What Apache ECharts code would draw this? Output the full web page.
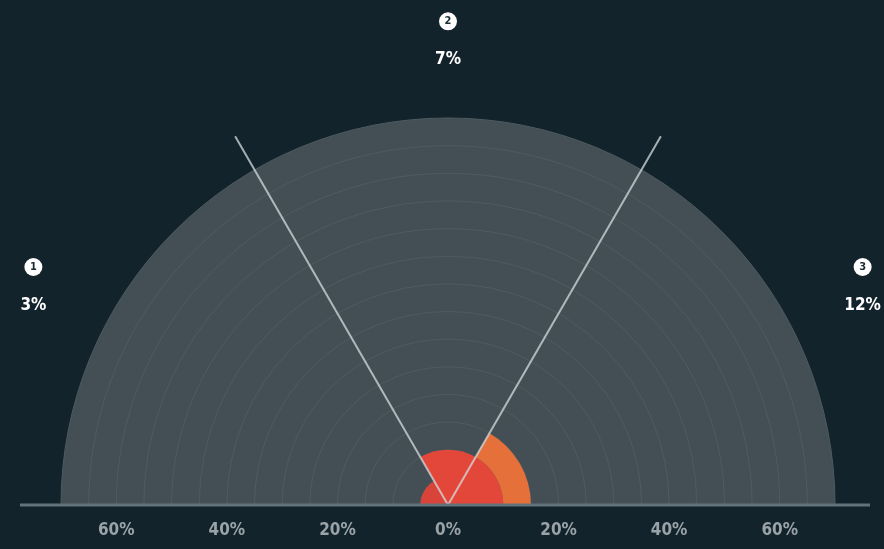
<!DOCTYPE html>
<html>
<head>
<meta charset="utf-8">
<title>Share by sector</title>
<script src="https://cdn.jsdelivr.net/npm/echarts@6/dist/echarts.min.js"></script>
<style>
    html, body { margin: 0; padding: 0; background: #13232b; }
    #chart { width: 884px; height: 549px; }
</style>
</head>
<body>
<div id="chart"></div>
<script>
    // sectors go left -> right across the half circle
    var sectors = ['1', '2', '3'];
    var shares = ['3%', '7%', '12%'];
    // radius of each wedge (%)
    var innerValues = [5, 10, 10];
    var outerValues = [0, 0, 5];
    // divider lines between the sectors (degrees along the arc, from the left)
    var dividers = [60, 120];
    var scaleTicks = [-60, -40, -20, 0, 20, 40, 60];

    var bg = '#13232b';
    var labelFont = 'DejaVu Sans Condensed';
    var chart = echarts.init(document.getElementById('chart'));

    var hiddenAxis = {
        axisLine: {show: false},
        axisTick: {show: false},
        axisLabel: {show: false},
        splitLine: {show: false}
    };

    var series = [
        {
            type: 'bar',
            coordinateSystem: 'polar',
            polarIndex: 0,
            stack: 'wedge',
            barCategoryGap: '0%',
            itemStyle: {color: '#e3473a'},
            data: innerValues.map(function (v, i) {
                return i === 0 ? {value: v, itemStyle: {color: '#d9443a'}} : v;
            }),
            z: 3
        },
        {
            type: 'bar',
            coordinateSystem: 'polar',
            polarIndex: 0,
            stack: 'wedge',
            barCategoryGap: '0%',
            itemStyle: {color: '#e5703a'},
            data: outerValues,
            z: 3
        }
    ];

    dividers.forEach(function (a) {
        series.push({
            type: 'line',
            coordinateSystem: 'polar',
            polarIndex: 1,
            clip: false,
            symbol: 'none',
            silent: true,
            lineStyle: {color: 'rgba(215,222,225,0.75)', width: 2},
            data: [[0, a], [77, a]],
            z: 5
        });
    });

    series.push({
        type: 'scatter',
        coordinateSystem: 'polar',
        polarIndex: 1,
        symbolSize: 1,
        itemStyle: {color: 'rgba(0,0,0,0)', opacity: 1},
        silent: true,
        data: [[85.5, 28.7], [85.5, 90], [85.5, 151.3]],
        label: {
            show: true,
            position: 'inside',
            color: '#ffffff',
            formatter: function (p) {
                return '{n|' + sectors[p.dataIndex] + '}\n{p|' + shares[p.dataIndex] + '}';
            },
            rich: {
                n: {
                    width: 18, height: 18, lineHeight: 18, borderRadius: 9,
                    backgroundColor: '#ffffff', color: '#1a2a31', align: 'center',
                    fontSize: 11, fontWeight: 'bold', fontFamily: labelFont
                },
                p: {
                    color: '#ffffff', fontSize: 17, fontWeight: 'bold', fontFamily: labelFont,
                    height: 22, lineHeight: 22, padding: [37, 0, 0, 0], align: 'center'
                }
            }
        },
        z: 6
    });

    // the outer polar reaches past the half circle so lines and labels can sit outside it
    var outerMax = 90;
    var ringRadius = 387;

    var option = {
        backgroundColor: bg,
        animation: false,
        polar: [
            {center: [448, 505], radius: ringRadius},
            {center: [448, 505], radius: ringRadius * outerMax / 70}
        ],
        angleAxis: [
            {
                polarIndex: 0, type: 'category', data: sectors,
                startAngle: 180, endAngle: 0, clockwise: true,
                axisLine: {show: false},
                axisTick: {show: false},
                axisLabel: {show: false},
                splitLine: {show: false},
                splitArea: {show: true, areaStyle: {color: ['#434f54', '#434f54', '#434f54', 'rgba(0,0,0,0)']}},
                z: 0
            },
            Object.assign({
                polarIndex: 1, type: 'value', min: 0, max: 180,
                startAngle: 180, endAngle: 0, clockwise: true
            }, hiddenAxis)
        ],
        radiusAxis: [
            {
                polarIndex: 0, type: 'value', min: 0, max: 70, interval: 5,
                axisLine: {show: false},
                axisTick: {show: false},
                axisLabel: {show: false},
                splitLine: {show: true, lineStyle: {color: '#4e5b60', width: 1}},
                z: 2
            },
            Object.assign({polarIndex: 1, type: 'value', min: 0, max: outerMax}, hiddenAxis)
        ],
        grid: {left: 61, right: 49, top: 0, bottom: 44},
        xAxis: {
            type: 'value', min: -70, max: 70, interval: 10,
            z: 30,
            axisLine: {show: false},
            axisTick: {show: false},
            splitLine: {show: false},
            axisLabel: {
                margin: 17,
                color: '#9aa4a8',
                fontSize: 17,
                fontWeight: 'bold',
                fontFamily: labelFont,
                formatter: function (v) {
                    return scaleTicks.indexOf(v) >= 0 ? Math.abs(v) + '%' : '';
                }
            }
        },
        yAxis: {type: 'value', show: false},
        graphic: [
            {
                type: 'rect',
                shape: {x: 0, y: 506, width: 884, height: 43},
                style: {fill: bg},
                z: 10
            },
            {
                type: 'line',
                shape: {x1: 20, y1: 505, x2: 870, y2: 505},
                style: {stroke: '#62737a', lineWidth: 3},
                z: 11
            }
        ],
        series: series
    };

    chart.setOption(option);
</script>
</body>
</html>
